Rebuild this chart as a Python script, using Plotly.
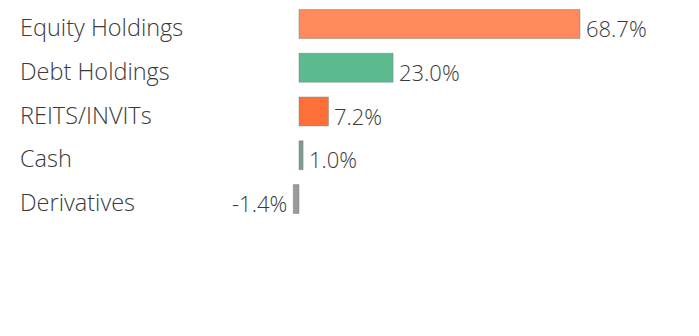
import plotly.graph_objects as go

categories = ["Equity Holdings", "Debt Holdings", "REITS/INVITs", "Cash", "Derivatives"]
values = [68.7, 23.0, 7.2, 1.0, -1.4]
labels = ["68.7%", "23.0%", "7.2%", "1.0%", "-1.4%"]
colors = ["#FF8A5E", "#5CBB8E", "#FF7038", "#7E9C8E", "#9A9A9A"]

W, H = 699, 336
px_per_unit = 4.09
zero_px = 299
xmin = -zero_px / px_per_unit
xmax = xmin + W / px_per_unit

row = 43.75
top = -24 / row
bottom = top + H / row

FONT = "Open Sans"
TXT = "#3a3a3a"

fig = go.Figure(go.Bar(
    x=values, y=categories, orientation="h",
    marker=dict(color=colors, line=dict(color="rgba(120,120,120,0.45)", width=1)),
    width=0.66,
    hoverinfo="skip",
))

for c in categories:
    fig.add_annotation(x=20 / W, xref="paper", y=c, yref="y", text=c,
                       showarrow=False, xanchor="left", yanchor="middle",
                       yshift=-3, xshift=-2,
                       font=dict(family=FONT, size=23.5, color=TXT, weight=300))

for c, v, t in zip(categories, values, labels):
    fig.add_annotation(x=v, y=c, text=t, showarrow=False,
                       xanchor="left" if v >= 0 else "right", yanchor="middle",
                       xshift=4 if v >= 0 else -4, yshift=-4,
                       font=dict(family=FONT, size=22, color=TXT, weight=300))

fig.update_layout(
    width=W, height=H, margin=dict(l=0, r=0, t=0, b=0),
    paper_bgcolor="white", plot_bgcolor="white", showlegend=False,
    xaxis=dict(range=[xmin, xmax], visible=False, fixedrange=True),
    yaxis=dict(type="category", categoryorder="array", categoryarray=categories,
               range=[bottom, top], visible=False, fixedrange=True),
)

fig.write_html("out.html")
